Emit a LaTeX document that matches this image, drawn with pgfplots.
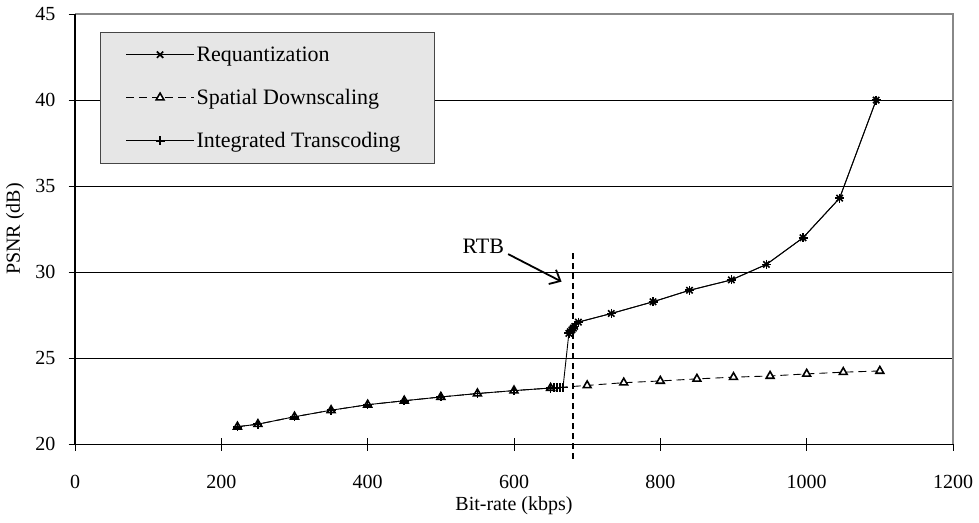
\documentclass[border=0pt]{standalone}
\usepackage{fontspec}
\setmainfont{Liberation Serif}
\usepackage{pgfplots}
\pgfplotsset{compat=1.18}
\usetikzlibrary{arrows.meta}
\definecolor{legfill}{RGB}{230,230,230}
\definecolor{legdraw}{RGB}{70,70,70}
\definecolor{bordergray}{RGB}{136,136,136}
\begin{document}
\begin{tikzpicture}[font=\fontsize{20bp}{24bp}\selectfont]
\path[use as bounding box] (0,0) rectangle (979bp,523bp);
\begin{axis}[
  at={(75bp,78.7bp)}, anchor=south west,
  scale only axis, width=878bp, height=430.3bp,
  xmin=0, xmax=1200, ymin=20, ymax=45,
  xtick={0,200,...,1200}, ytick={20,25,...,45},
  xtick pos=bottom, ytick pos=left,
  axis line style={draw=none},
  tick align=center, major tick length=13bp,
  tick style={black, line width=0.8bp},
  ymajorgrids, grid style={black, line width=0.8bp},
  /pgf/number format/1000 sep={},
  /pgf/number format/assume math mode=true,
  xticklabel style={anchor=center, yshift=-31bp},
  yticklabel style={anchor=east, inner sep=0pt, xshift=-13bp},
  xlabel={Bit-rate (kbps)}, ylabel={PSNR (dB)},
  xlabel style={at={(axis description cs:0.5,-0.142)}, anchor=center},
  ylabel style={at={(axis description cs:-0.0683,0.5)}, anchor=center},
  clip=false,
  legend cell align=left,
  legend style={at={(0.0285,0.958)}, anchor=north west,
    fill=legfill, draw=legdraw, line width=1.2bp,
    inner xsep=10bp, inner ysep=12bp, row sep=22.5bp,
    font=\fontsize{22bp}{26bp}\selectfont,
    nodes={inner sep=2bp}},
  legend image code/.code={\path (0bp,0bp); \draw[mark repeat=2,mark phase=2,#1] plot coordinates {(15bp,0bp) (49bp,0bp) (83bp,0bp)};},
]
% Requantization
\addplot[black, line width=0.9bp, mark=x, mark size=4.5bp, mark options={solid, line width=1.6bp}] coordinates {
(675,26.45) (677,26.55) (679,26.65) (681,26.75) (683,26.85) (688,27.1)
(733,27.6) (790,28.28) (840,28.95) (897,29.55) (945,30.45) (995,32.0) (1045,34.3) (1095,40.0)
};
\addlegendentry{Requantization}
% Spatial Downscaling
\addplot[black, line width=0.9bp, dash pattern=on 8bp off 5bp, mark=triangle*, mark size=4.5bp, mark options={solid, fill=white, line width=1.6bp}] coordinates {
(222,21.02) (250,21.17) (300,21.6) (350,21.98) (400,22.3) (450,22.53) (500,22.75) (550,22.95) (600,23.12) (650,23.27)
(700,23.42) (750,23.58) (800,23.68) (850,23.8) (900,23.9) (950,23.97) (1000,24.09) (1050,24.19) (1100,24.26)
};
\addlegendentry{Spatial Downscaling}
% Integrated Transcoding
\addplot[black, line width=0.9bp, mark=+, mark size=4.5bp, mark options={solid, line width=1.6bp}] coordinates {
(222,21.02) (250,21.17) (300,21.6) (350,21.98) (400,22.3) (450,22.53) (500,22.75) (550,22.95) (600,23.12) (650,23.27)
(655,23.28) (659,23.29) (663,23.3) (667,23.31)
(675,26.45) (677,26.55) (679,26.65) (681,26.75) (683,26.85) (688,27.1)
(733,27.6) (790,28.28) (840,28.95) (897,29.55) (945,30.45) (995,32.0) (1045,34.3) (1095,40.0)
};
\addlegendentry{Integrated Transcoding\rule{22bp}{0pt}}
% borders
\draw[bordergray, line width=1.8bp] (rel axis cs:0,1) -- (rel axis cs:1,1) -- (rel axis cs:1,0);
\draw[black, line width=1.3bp] (rel axis cs:0,1) -- (rel axis cs:0,0) -- (rel axis cs:1,0);
% RTB
\draw[black, line width=2bp, dash pattern=on 6bp off 4bp] (axis cs:681,31.1) -- (axis cs:681,19.05);
\draw[black, line width=1.8bp, -{Straight Barb[length=9bp,width=16bp]}] (axis cs:592,31.05) -- (axis cs:665,29.45);
\node[font=\fontsize{22bp}{26bp}\selectfont] at (axis cs:558,31.5) {RTB};
\end{axis}
\end{tikzpicture}
\end{document}
